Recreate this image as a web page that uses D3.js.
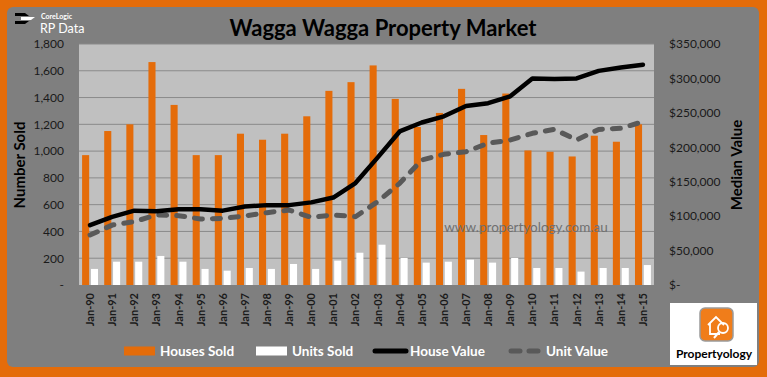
<!DOCTYPE html>
<html>
<head>
<meta charset="utf-8">
<script src="https://cdn.jsdelivr.net/npm/d3@7"></script>
<style>
  html, body { margin: 0; padding: 0; background: #e46c0a; }
  svg { display: block; font-family: Lato, "Open Sans", sans-serif; }
</style>
</head>
<body>
<div id="chart"></div>
<script>
const years = ['90','91','92','93','94','95','96','97','98','99','00','01','02','03','04','05','06','07','08','09','10','11','12','13','14','15'];
const categories = years.map(y => `Jan-${y}`);

const housesSold = [970, 1150, 1200, 1665, 1345, 970, 970, 1130, 1085, 1130, 1260, 1450, 1515,
    1640, 1390, 1180, 1285, 1465, 1120, 1430, 1005, 995, 960, 1115, 1070, 1200];
const unitsSold = [120, 174, 174, 217, 174, 120, 107, 127, 120, 157, 120, 182, 241,
    301, 202, 167, 174, 189, 167, 202, 127, 127, 100, 127, 127, 149];
const houseValue = [87000, 99000, 108000, 107000, 110000, 110000, 108000, 114000, 116000, 116000, 120000, 127000, 148000,
    185000, 223000, 236000, 245000, 260000, 264000, 274000, 300000, 299000, 300000, 311000, 316000, 320000];
const unitValue = [72600, 87000, 92000, 101700, 100700, 95800, 96800, 100200, 105000, 108900, 98300, 101700, 99200,
    121000, 147700, 181500, 189800, 193600, 205800, 210600, 220300, 226100, 210600, 226000, 227600, 237200];

const leftTicks = [0, 200, 400, 600, 800, 1000, 1200, 1400, 1600, 1800];
const rightTicks = [0, 50000, 100000, 150000, 200000, 250000, 300000, 350000];

const title = 'Wagga Wagga Property Market';
const watermark = 'www.propertyology.com.au';

const width = 767, height = 377;
const margin = { top: 44, right: 113, bottom: 92, left: 79 };

const x = d3.scaleBand()
    .domain(categories)
    .range([margin.left, width - margin.right]);

const xSub = d3.scaleBand()
    .domain(['houses', 'units'])
    .range([0, x.bandwidth()])
    .paddingInner(0.2)
    .paddingOuter(0.35);

const yLeft = d3.scaleLinear()
    .domain([0, 1800])
    .range([height - margin.bottom, margin.top]);

const yRight = d3.scaleLinear()
    .domain([0, 350000])
    .range([height - margin.bottom, margin.top]);

const svg = d3.select('#chart').append('svg')
    .attr('width', width)
    .attr('height', height)
    .attr('viewBox', [0, 0, width, height]);

// frame
svg.append('rect')
    .attr('width', width).attr('height', height)
    .attr('fill', '#e46c0a');
svg.append('rect')
    .attr('x', 7).attr('y', 7)
    .attr('width', width - 15).attr('height', height - 17)
    .attr('rx', 6)
    .attr('fill', '#7f7f7f');

// plot area
svg.append('rect')
    .attr('x', margin.left).attr('y', margin.top)
    .attr('width', width - margin.left - margin.right)
    .attr('height', height - margin.top - margin.bottom)
    .attr('fill', '#c0c0c0');

// gridlines
svg.append('g')
    .selectAll('line')
    .data(leftTicks.slice(1))
    .join('line')
    .attr('x1', margin.left)
    .attr('x2', width - margin.right)
    .attr('y1', d => yLeft(d))
    .attr('y2', d => yLeft(d))
    .attr('stroke', '#8a8a8a')
    .attr('stroke-width', 1);

// bars
const groups = svg.append('g')
    .selectAll('g')
    .data(categories)
    .join('g')
    .attr('transform', d => `translate(${x(d)},0)`);

groups.append('rect')
    .attr('x', xSub('houses'))
    .attr('width', xSub.bandwidth())
    .attr('y', (d, i) => yLeft(housesSold[i]))
    .attr('height', (d, i) => yLeft(0) - yLeft(housesSold[i]))
    .attr('fill', '#e46c0a');

groups.append('rect')
    .attr('x', xSub('units'))
    .attr('width', xSub.bandwidth())
    .attr('y', (d, i) => yLeft(unitsSold[i]))
    .attr('height', (d, i) => yLeft(0) - yLeft(unitsSold[i]))
    .attr('fill', '#ffffff');

// watermark
svg.append('text')
    .attr('x', 526)
    .attr('y', 232)
    .attr('text-anchor', 'middle')
    .attr('font-size', 13.5)
    .attr('fill', '#707070')
    .text(watermark);

// value lines
const line = values => d3.line()
    .x((d, i) => x(categories[i]) + x.bandwidth() / 2)
    .y(d => yRight(d))(values);

svg.append('path')
    .attr('d', line(unitValue))
    .attr('fill', 'none')
    .attr('stroke', '#595959')
    .attr('stroke-width', 5)
    .attr('stroke-dasharray', '8,10')
    .attr('stroke-linecap', 'round')
    .attr('stroke-linejoin', 'round');

svg.append('path')
    .attr('d', line(houseValue))
    .attr('fill', 'none')
    .attr('stroke', '#000000')
    .attr('stroke-width', 4.5)
    .attr('stroke-linecap', 'round')
    .attr('stroke-linejoin', 'round');

// axes
const leftAxis = svg.append('g')
    .attr('transform', `translate(${margin.left},0)`)
    .call(d3.axisLeft(yLeft).tickValues(leftTicks).tickSize(0).tickPadding(15)
        .tickFormat(d => d === 0 ? '-' : d3.format(',')(d)));
leftAxis.select('.domain').remove();
leftAxis.selectAll('text')
    .attr('font-family', 'Lato, sans-serif')
    .attr('font-size', 12)
    .attr('fill', '#1a1a1a');

const rightAxis = svg.append('g')
    .attr('transform', `translate(${width - margin.right},0)`)
    .call(d3.axisRight(yRight).tickValues(rightTicks).tickSize(0).tickPadding(15)
        .tickFormat(d => d === 0 ? '$-' : '$' + d3.format(',')(d)));
rightAxis.select('.domain').remove();
rightAxis.selectAll('text')
    .attr('font-family', 'Lato, sans-serif')
    .attr('font-size', 12)
    .attr('fill', '#1a1a1a');

const xAxis = svg.append('g')
    .attr('transform', `translate(0,${height - margin.bottom})`)
    .call(d3.axisBottom(x).tickSize(0).tickPadding(0));
xAxis.select('.domain').remove();
xAxis.selectAll('text')
    .attr('font-family', 'Lato, sans-serif')
    .attr('font-size', 11)
    .attr('font-weight', 'bold')
    .attr('fill', '#1a1a1a')
    .attr('text-anchor', 'end')
    .attr('dy', null)
    .attr('y', 0)
    .attr('transform', 'translate(4,8) rotate(-90)');

// axis titles
svg.append('text')
    .attr('transform', 'translate(25,165) rotate(-90)')
    .attr('text-anchor', 'middle')
    .attr('font-size', 15)
    .attr('font-weight', 'bold')
    .attr('fill', '#000')
    .text('Number Sold');

svg.append('text')
    .attr('transform', 'translate(742,165) rotate(-90)')
    .attr('text-anchor', 'middle')
    .attr('font-size', 15)
    .attr('font-weight', 'bold')
    .attr('fill', '#000')
    .text('Median Value');

// title
svg.append('text')
    .attr('x', 383)
    .attr('y', 36)
    .attr('text-anchor', 'middle')
    .attr('font-size', 22)
    .attr('font-weight', 'bold')
    .attr('fill', '#000')
    .text(title);

// CoreLogic logo
const logo = svg.append('g').attr('transform', 'translate(15,13)');
logo.append('path').attr('d', 'M0,0 H10 L14,3 H0 Z').attr('fill', '#000');
logo.append('path').attr('d', 'M6,4 H20 L16,7 H6 Z').attr('fill', '#fff');
logo.append('path').attr('d', 'M0,8 H14 L10,11 H0 Z').attr('fill', '#000');
logo.append('text')
    .attr('x', 26).attr('y', 6)
    .attr('font-size', 7)
    .attr('font-weight', 'bold')
    .attr('fill', '#fff')
    .text('CoreLogic');
logo.append('text')
    .attr('x', 25).attr('y', 20)
    .attr('font-size', 12.5)
    .attr('fill', '#fff')
    .text('RP Data');

// legend
const legendItems = [
    { label: 'Houses Sold', type: 'rect', color: '#e46c0a', x: 124 },
    { label: 'Units Sold', type: 'rect', color: '#ffffff', x: 256 },
    { label: 'House Value', type: 'line', color: '#000000', x: 373 },
    { label: 'Unit Value', type: 'dash', color: '#595959', x: 509 }
];
const legend = svg.append('g')
    .selectAll('g')
    .data(legendItems)
    .join('g')
    .attr('transform', d => `translate(${d.x},351)`);

legend.filter(d => d.type === 'rect').append('rect')
    .attr('y', -4.5).attr('width', 31).attr('height', 9)
    .attr('fill', d => d.color);
legend.filter(d => d.type !== 'rect').append('line')
    .attr('x1', 2).attr('x2', 33)
    .attr('stroke', d => d.color)
    .attr('stroke-width', 5)
    .attr('stroke-linecap', 'round')
    .attr('stroke-dasharray', d => d.type === 'dash' ? '9,9' : null);
legend.append('text')
    .attr('x', d => d.type === 'rect' ? 36 : 37)
    .attr('y', 5)
    .attr('font-size', 13.5)
    .attr('font-weight', 'bold')
    .attr('fill', '#fff')
    .text(d => d.label);

// Propertyology logo
const plogo = svg.append('g').attr('transform', 'translate(670,303)');
plogo.append('rect').attr('width', 87).attr('height', 62).attr('fill', '#fff');
plogo.append('rect')
    .attr('x', 30).attr('y', 5).attr('width', 33).attr('height', 33).attr('rx', 5)
    .attr('fill', '#f07d1a').attr('stroke', '#9a9a9a').attr('stroke-width', 1.5);
plogo.append('path')
    .attr('d', 'M38,22 L46,14 L54,22 M40,20 V31 H50')
    .attr('fill', 'none').attr('stroke', '#fff').attr('stroke-width', 1.8);
plogo.append('circle')
    .attr('cx', 53).attr('cy', 25).attr('r', 5)
    .attr('fill', 'none').attr('stroke', '#fff').attr('stroke-width', 1.8);
plogo.append('line')
    .attr('x1', 49).attr('y1', 29).attr('x2', 44).attr('y2', 35)
    .attr('stroke', '#fff').attr('stroke-width', 2);
plogo.append('text')
    .attr('x', 44).attr('y', 55)
    .attr('text-anchor', 'middle')
    .attr('font-size', 12)
    .attr('font-weight', 'bold')
    .attr('fill', '#000')
    .text('Propertyology');
</script>
</body>
</html>
